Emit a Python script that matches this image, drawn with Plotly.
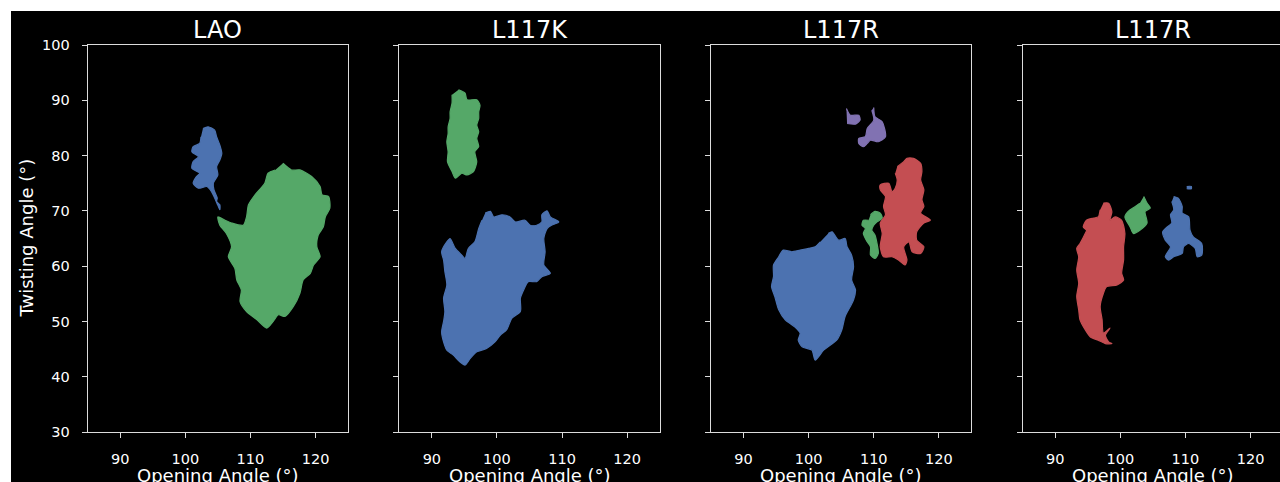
import plotly.graph_objects as go

# ---- data: opening angle (x) / twisting angle (y) outlines of each populated region ----
panel_titles = ["LAO", "L117K", "L117R", "L117R"]
x_ticks = [90, 100, 110, 120]
y_ticks = [30, 40, 50, 60, 70, 80, 90, 100]

blue = "#4C72B0"
green = "#55A868"
red = "#C44E52"
purple = "#8172B2"

# LAO
lao_blue_open = [102.7, 103.5, 104.5, 104.8, 105.3, 105.6, 105.3, 104.8, 105.0, 104.3, 104.4, 104.9, 104.8, 105.3,
                 105.3, 105.0, 104.0, 103.3, 102.0, 101.2, 101.7, 102.2, 101.0, 101.2, 102.0, 101.0, 101.2, 102.2, 102.4]
lao_blue_twist = [84.9, 85.2, 84.6, 83.4, 81.9, 80.4, 79.2, 78.0, 76.5, 75.0, 73.8, 72.3, 71.7, 71.1,
                  70.2, 71.0, 73.5, 74.4, 74.1, 75.0, 76.2, 76.8, 77.7, 78.9, 79.8, 80.7, 81.6, 82.2, 83.4]
lao_green_open = [115.0, 116.3, 117.6, 119.4, 120.7, 121.0, 122.0, 122.2, 121.5, 121.2, 120.4, 120.2, 120.7, 119.7,
                  119.2, 118.1, 117.6, 116.6, 115.3, 114.3, 113.5, 112.5, 111.0, 109.4, 108.4, 108.6, 107.9, 107.6,
                  106.6, 107.1, 106.3, 105.3, 105.0, 106.1, 107.1, 108.9, 109.4, 109.7, 110.7, 112.2, 112.7, 113.8]
lao_green_twist = [78.6, 77.4, 77.4, 76.2, 74.4, 72.9, 72.6, 70.5, 68.9, 67.1, 65.6, 63.5, 61.7, 60.2,
                   58.7, 57.5, 55.1, 52.7, 50.9, 51.2, 50.0, 48.8, 50.3, 51.8, 53.6, 55.7, 57.5, 59.6,
                   61.7, 63.5, 65.9, 67.4, 68.9, 68.3, 67.8, 67.4, 68.9, 71.1, 72.9, 75.0, 76.8, 77.4]

# L117K
k_green_open = [94.1, 95.1, 95.4, 96.9, 97.4, 97.2, 97.2, 96.9, 97.2, 96.9, 97.2, 96.6, 96.9, 96.4,
                95.4, 94.6, 93.6, 93.1, 92.4, 92.5, 92.3, 92.5, 92.5, 92.8, 92.8, 93.1, 93.1]
k_green_twist = [91.9, 91.3, 90.1, 90.1, 89.1, 87.9, 86.7, 85.5, 84.3, 83.1, 81.6, 80.7, 78.9, 77.1,
                 76.5, 76.8, 75.9, 77.1, 78.9, 80.7, 82.5, 84.0, 85.2, 86.7, 87.9, 89.5, 91.0]
k_blue_open = [98.2, 99.0, 99.5, 100.8, 102.0, 102.8, 104.3, 105.1, 106.1, 106.9, 106.9, 107.7, 108.2, 109.5,
               108.4, 107.7, 107.2, 107.4, 107.2, 108.2, 106.9, 106.1, 104.8, 104.1, 103.6, 103.6, 102.3,
               101.5, 100.5, 99.7, 98.4, 96.9, 95.9, 95.1, 94.3, 93.3, 92.3, 91.8, 91.5, 91.8, 92.0, 91.8,
               92.3, 92.0, 91.8, 91.5, 92.3, 92.8, 93.6, 94.6, 95.1, 95.6, 96.6, 97.2, 97.7]
k_blue_twist = [69.6, 69.9, 68.9, 69.3, 68.9, 68.0, 68.3, 67.4, 67.4, 68.0, 69.3, 70.0, 68.9, 68.0,
                67.4, 66.8, 65.0, 62.6, 60.2, 58.7, 58.1, 57.2, 57.2, 55.7, 54.2, 51.8, 50.6,
                48.5, 47.5, 46.3, 45.1, 44.5, 43.3, 42.1, 42.7, 43.9, 44.8, 46.3, 48.1, 50.0, 51.8, 54.2,
                56.6, 59.0, 61.1, 62.6, 64.4, 65.0, 63.2, 62.0, 61.4, 63.2, 64.4, 66.8, 68.3]

# L117R (first)
r1_blue_open = [103.0, 103.6, 104.6, 105.6, 105.9, 106.6, 106.9, 106.6, 107.2, 106.9, 106.4, 105.6, 105.1,
                104.3, 103.3, 102.3, 101.0, 100.5, 99.0, 98.4, 98.7, 97.9, 96.4, 95.4, 94.8, 94.3, 94.6,
                94.6, 95.4, 96.1, 97.4, 98.7, 100.0, 101.0, 101.8]
r1_blue_twist = [65.9, 66.2, 64.7, 65.0, 63.5, 62.0, 59.9, 57.5, 55.7, 53.9, 52.7, 50.9, 48.5,
                 46.6, 45.7, 44.8, 43.0, 44.8, 45.4, 46.6, 47.9, 49.0, 50.3, 52.1, 54.5, 56.3, 58.1,
                 60.2, 61.7, 62.9, 62.6, 62.9, 63.2, 63.5, 64.4]
r1_green_open = [109.5, 110.2, 111.0, 111.3, 110.5, 110.0, 109.7, 110.2, 110.5, 110.7, 110.2, 109.5, 109.5,
                 109.0, 108.4, 108.7, 108.2, 108.4, 109.2]
r1_green_twist = [69.3, 69.9, 69.6, 68.7, 68.0, 67.4, 66.5, 65.6, 64.1, 62.3, 61.4, 62.0, 63.5,
                  64.4, 65.9, 66.8, 67.4, 68.3, 68.3]
r1_red_open = [113.6, 114.6, 115.1, 116.1, 117.2, 117.4, 117.2, 117.7, 117.4, 117.7, 117.2, 118.7, 117.7,
               116.6, 116.6, 117.7, 117.2, 115.9, 115.4, 114.6, 115.1, 114.8, 113.8, 112.8, 111.5, 111.0,
               111.3, 111.0, 111.8, 111.5, 111.8, 111.0, 111.0, 112.3, 112.8, 113.3, 113.6, 113.3]
r1_red_twist = [78.0, 78.9, 79.5, 79.5, 78.6, 77.1, 75.6, 73.8, 72.0, 70.8, 69.6, 68.3, 67.8,
                66.2, 64.7, 63.5, 62.3, 62.6, 64.4, 63.5, 61.1, 60.2, 61.1, 61.7, 61.7, 63.5,
                65.9, 67.8, 69.3, 70.8, 72.6, 73.8, 74.7, 75.0, 73.5, 74.1, 75.6, 76.8]
r1_purple_open = [105.8, 106.4, 107.7, 107.9, 107.2, 105.9, None,
                  110.0, 110.2, 111.3, 111.8, 110.7, 109.5, 109.0, 108.4, 107.7, 107.7, 108.7, 109.0,
                  110.0, 109.7]
r1_purple_twist = [88.5, 87.3, 87.3, 86.4, 85.7, 85.8, None,
                   88.7, 87.0, 86.1, 83.4, 82.5, 82.8, 82.2, 81.6, 82.2, 83.1, 83.4, 84.9,
                   86.4, 88.2]

# L117R (second)
r2_red_open = [97.4, 98.2, 98.7, 98.4, 99.2, 100.2, 100.7, 100.5, 100.5, 100.2, 100.5, 99.5, 97.9, 97.4,
               96.9, 97.2, 97.4, 98.4, 97.7, 98.2, 98.7, 97.7, 96.6, 95.4, 94.6, 93.8, 93.6, 93.3, 93.6,
               93.3, 93.6, 93.3, 93.8, 94.6, 94.8, 94.3, 94.8, 95.9, 96.6, 96.9]
r2_red_twist = [71.4, 71.4, 69.8, 68.3, 68.9, 68.3, 65.9, 63.5, 61.1, 58.7, 57.5, 56.6, 56.3, 55.1,
                52.7, 50.3, 47.9, 48.8, 47.5, 46.3, 46.0, 46.0, 46.6, 47.2, 48.5, 50.3, 52.1, 54.5, 56.9,
                59.3, 61.7, 63.2, 64.1, 65.9, 66.5, 67.1, 68.3, 68.7, 68.9, 70.2]
r2_green_open = [103.6, 104.1, 104.6, 103.8, 104.1, 103.0, 102.0, 101.5, 100.7, 101.2, 102.3, 103.0]
r2_green_twist = [72.6, 71.4, 70.5, 69.9, 67.8, 66.5, 65.9, 67.1, 68.9, 69.9, 70.8, 71.4]
r2_blue_open = [108.2, 108.9, 109.5, 109.5, 110.5, 110.7, 111.2, 112.5, 112.5, 111.8, 111.5, 110.5, 109.7,
                109.5, 108.2, 107.4, 106.9, 107.7, 106.9, 106.5, 107.2, 107.9, 107.7, 108.2, 107.9, None,
                110.2, 110.9, 110.9, 110.2]
r2_blue_twist = [72.6, 72.3, 70.8, 69.6, 68.9, 66.5, 65.3, 64.1, 62.0, 61.7, 63.2, 64.1, 63.5,
                 62.3, 61.7, 61.1, 61.7, 63.5, 64.7, 66.2, 67.1, 67.8, 69.3, 70.2, 71.7, None,
                 74.4, 74.4, 74.0, 74.0]

panels = [
    [(lao_blue_open, lao_blue_twist, blue), (lao_green_open, lao_green_twist, green)],
    [(k_green_open, k_green_twist, green), (k_blue_open, k_blue_twist, blue)],
    [(r1_blue_open, r1_blue_twist, blue), (r1_green_open, r1_green_twist, green),
     (r1_red_open, r1_red_twist, red), (r1_purple_open, r1_purple_twist, purple)],
    [(r2_red_open, r2_red_twist, red), (r2_green_open, r2_green_twist, green),
     (r2_blue_open, r2_blue_twist, blue)],
]

# ---- layout geometry (pixels of a 1280 x 482 page) ----
W, H = 1280, 482
panel_left = [87.7, 399.3, 711.0, 1022.7]
panel_w = 260.4
plot_top, plot_bottom = 45.0, 432.0
x_lo, x_hi = 85, 125
fg = "#ffffff"
line_col = "#dcdcdc"
font_family = "DejaVu Sans"

fig = go.Figure()

for i, blobs in enumerate(panels):
    suffix = "" if i == 0 else str(i + 1)
    for xs, ys, col in blobs:
        fig.add_trace(go.Scatter(
            x=xs, y=ys, mode="lines", fill="toself", fillcolor=col,
            line=dict(color=col, width=1.2, shape="spline", smoothing=0.7),
            hoverinfo="skip", showlegend=False,
            xaxis="x" + suffix, yaxis="y" + suffix,
        ))

layout = dict(
    width=W, height=H,
    margin=dict(l=0, r=0, t=0, b=0, pad=0, autoexpand=False),
    paper_bgcolor="white",
    plot_bgcolor="rgba(0,0,0,0)",
    font=dict(family=font_family, color=fg),
    showlegend=False,
)

y_dom = [(H - plot_bottom) / H, (H - plot_top) / H]
for i in range(4):
    suffix = "" if i == 0 else str(i + 1)
    left = panel_left[i]
    right = left + panel_w
    px_per_unit = panel_w / (x_hi - x_lo)
    hi = x_hi
    if right > W:
        hi = x_lo + (W - left) / px_per_unit
        right = W
    layout["xaxis" + suffix] = dict(
        domain=[left / W, right / W], range=[x_lo, hi], anchor="y" + suffix,
        tickvals=x_ticks, ticks="outside", ticklen=5, tickwidth=1.2, tickcolor=line_col,
        showline=True, linecolor=line_col, linewidth=1.2, mirror=True,
        showgrid=False, zeroline=False, automargin=False, ticklabelstandoff=8,
        tickfont=dict(size=14.5, color=fg, family=font_family),
        fixedrange=True,
    )
    layout["yaxis" + suffix] = dict(
        domain=y_dom, range=[30, 100], anchor="x" + suffix,
        tickvals=y_ticks, ticks="outside", ticklen=5, tickwidth=1.2, tickcolor=line_col,
        showline=True, linecolor=line_col, linewidth=1.2, mirror=(i < 3),
        showgrid=False, zeroline=False, showticklabels=(i == 0),
        automargin=False, ticklabelstandoff=9,
        tickfont=dict(size=14.5, color=fg, family=font_family), fixedrange=True,
    )

fig.update_layout(**layout)

# dark figure face
fig.add_shape(type="rect", xref="paper", yref="paper",
              x0=11 / W, x1=1.0, y0=0.0, y1=(H - 11) / H,
              fillcolor="black", line=dict(width=0), layer="below")

annotations = []
for i, title in enumerate(panel_titles):
    cx = panel_left[i] + panel_w / 2
    annotations.append(dict(
        text=title, x=cx / W, y=(H - 30) / H, xref="paper", yref="paper",
        xanchor="center", yanchor="middle", showarrow=False,
        font=dict(size=24, color=fg, family=font_family),
    ))
    annotations.append(dict(
        text="Opening Angle (°)", x=cx / W, y=(H - 475) / H, xref="paper", yref="paper",
        xanchor="center", yanchor="middle", showarrow=False,
        font=dict(size=18, color=fg, family=font_family),
    ))
annotations.append(dict(
    text="Twisting Angle (°)", x=26 / W, y=(H - 238.5) / H, xref="paper", yref="paper",
    xanchor="center", yanchor="middle", showarrow=False, textangle=-90,
    font=dict(size=18, color=fg, family=font_family),
))
fig.update_layout(annotations=annotations)

fig.write_html("out.html")
